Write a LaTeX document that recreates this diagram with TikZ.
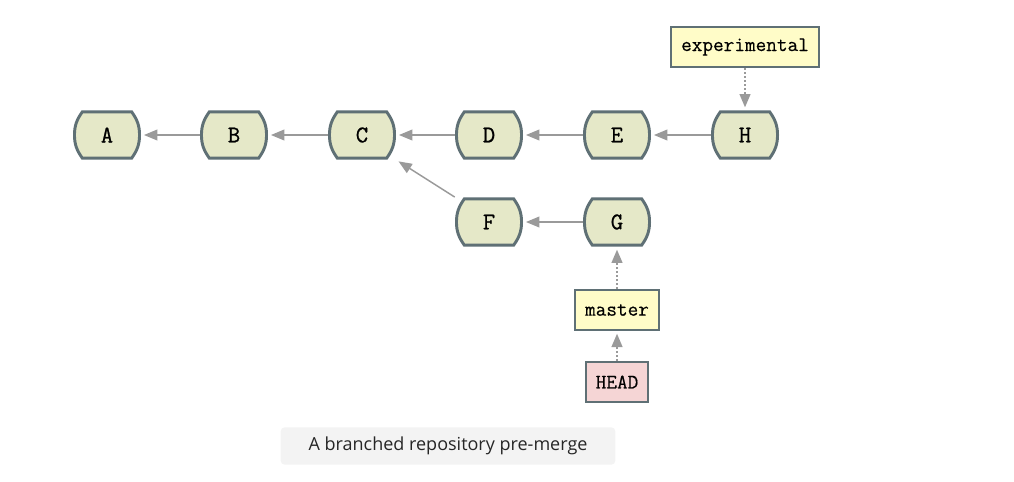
\documentclass[tikz,border=0pt]{standalone}
\usepackage{fontspec}
\newfontfamily\captionfont{Open Sans}
\newfontfamily\commitmono[FakeBold=0.9]{Latin Modern Mono}
\newfontfamily\refmono[FakeBold=0.4]{Latin Modern Mono}
\usetikzlibrary{arrows.meta}
\definecolor{cmtfill}{RGB}{229,232,200}
\definecolor{cmtline}{RGB}{95,112,117}
\definecolor{reffill}{RGB}{255,252,200}
\definecolor{headfill}{RGB}{245,213,213}
\definecolor{linkgray}{RGB}{154,154,154}
\definecolor{capfill}{RGB}{243,243,243}
\tikzset{
  commit/.style={minimum width=51pt, minimum height=37pt, inner sep=0pt, fill=white,
    font=\commitmono\fontsize{18}{20}\selectfont,
    path picture={\draw[line width=2.2pt, draw=cmtline, fill=cmtfill]
      ([shift={(7pt,-1.1pt)}]path picture bounding box.north west)
      -- ([shift={(-7pt,-1.1pt)}]path picture bounding box.north east)
      to[out=-55,in=90] ([xshift=-1.1pt]path picture bounding box.east)
      to[out=-90,in=55] ([shift={(-7pt,1.1pt)}]path picture bounding box.south east)
      -- ([shift={(7pt,1.1pt)}]path picture bounding box.south west)
      to[out=125,in=-90] ([xshift=1.1pt]path picture bounding box.west)
      to[out=90,in=-125] cycle;}},
  branchref/.style={draw=cmtline, line width=1.5pt, fill=reffill, minimum height=30pt,
    inner xsep=7.5pt, inner ysep=0pt, font=\refmono\fontsize{15.5}{18}\selectfont},
  headref/.style={branchref, fill=headfill},
  parent/.style={draw=linkgray, line width=1.1pt, -{Triangle[length=10pt,width=8pt]}, shorten >=2pt},
  pointer/.style={parent, line width=1.6pt, dash pattern=on 1.4pt off 1.6pt}
}
\begin{document}
\begin{tikzpicture}[x=0.75pt, y=-0.75pt]
    \useasboundingbox (0,0) rectangle (1014,482);
    % commits
    \node[commit] (A) at (107,135) {A};
    \node[commit] (B) at (234,135) {B};
    \node[commit] (C) at (362,135) {C};
    \node[commit] (D) at (489,135) {D};
    \node[commit] (E) at (617,135) {E};
    \node[commit] (H) at (745,135) {H};
    \node[commit] (F) at (489,222) {F};
    \node[commit] (G) at (617,222) {G};
    % branches
    \node[branchref] (experimental) at (745,47) {experimental};
    \node[branchref] (master) at (617,310) {master};
    \node[headref] (HEAD) at (617,382) {HEAD};
    % history
    \draw[parent] (B) -- (A);
    \draw[parent] (C) -- (B);
    \draw[parent] (D) -- (C);
    \draw[parent] (E) -- (D);
    \draw[parent] (H) -- (E);
    \draw[parent] (G) -- (F);
    \draw[parent] (F.north west) -- (C.south east);
    \draw[pointer] (experimental) -- (H);
    \draw[pointer] (master) -- (G);
    \draw[pointer] (HEAD) -- (master);
    % caption
    \node[fill=capfill, rounded corners=3pt, minimum width=251pt, minimum height=28pt,
      font=\captionfont\fontsize{13.5}{16}\selectfont, text=black!85] (caption) at (448,446)
      {A branched repository pre-merge};
\end{tikzpicture}
\end{document}
